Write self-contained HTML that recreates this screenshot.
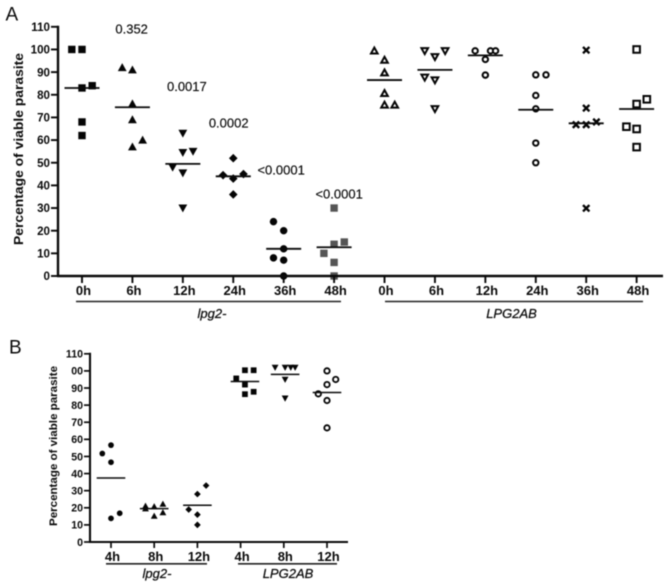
<!DOCTYPE html>
<html lang="en">
<head>
<meta charset="utf-8">
<title>Percentage of viable parasite</title>
<style>
html,body{margin:0;padding:0;background:#fff;width:669px;height:585px;overflow:hidden}
svg{display:block;filter:blur(0.45px)}
text{font-family:"Liberation Sans",sans-serif;fill:#0a0a0a}
</style>
</head>
<body>
<svg id="chart" xmlns="http://www.w3.org/2000/svg" width="669" height="585" viewBox="0 0 669 585"></svg>
<script>
// Panel A data
const aCategories = ['0h','6h','12h','24h','36h','48h','0h','6h','12h','24h','36h','48h'];
const aYTicks = [0,10,20,30,40,50,60,70,80,90,100,110];
const aYTickLabels = ['0','10','20','30','40','50','60','70','80','90','100','110'];
const aValues = [
  [100,100,83,84,68,62],
  [92,91,76,69,60,57],
  [63,54.5,55,48,45.5,30],
  [52,44.5,45,43,36],
  [24,20,12,8,7,0],
  [30,14,10,15,6,0],
  [99.4,95.3,89.7,80.6,75.5,75.5],
  [99.4,99.4,96.8,87.7,86.5,73.8],
  [99.4,99.4,99.4,95.6,88.7,88.7],
  [88.8,88.8,79.7,73.8,58.7,50],
  [99.7,74.1,66.8,66.8,68,29.9],
  [100,78,75.9,65.9,64.9,56.9]
];
const aColumns = [
  [-1,0,0,1,0,0],
  [-1,0,0,0,1,0],
  [0,0,1,-1,0,0],
  [0,-1,1,0,0],
  [-1,0,0,-1,0,0],
  [0,0,-1,1,0,0],
  [-1,0,0,0,0,1],
  [-1,1,0,-1,0,0],
  [-1,0.5,1,0,0,0],
  [0,1,0,0,0,0],
  [0,0,-1,0,1,0],
  [0,1,0,-1,0,0]
];
const aMeans = [83,74.5,49.5,44,12,12.7,86.5,91,97.4,73.4,67.4,73.7];
const aMarkers = ['square','up','down','diamond','circle','greysquare','openup','opendown','opencircle','opencircle','cross','opensquare'];
const aPValues = ['0.352','0.0017','0.0002','<0.0001','<0.0001'];
const aPValueHeights = [109,83.7,67.5,46.8,36.2];
const aPValueCategories = [0.985,2.08,2.91,3.95,5.1];

// Panel B data
const bCategories = ['4h','8h','12h','4h','8h','12h'];
const bYTicks = [0,10,20,30,40,50,60,70,80,90,100,110];
const bYTickLabels = ['0','10','20','30','40','50','60','70','80','90','00','110'];
const bValues = [
  [51.7,56.6,46.6,13.8,16.8],
  [21,19.5,20.7,15.2,22.2,17.2],
  [28,33,19,16,10],
  [100.4,100.4,95.6,92,87.8,86.4],
  [102,102,102,102,95,84],
  [100,95,92,86.6,82.7,66.7]
];
const bColumns = [
  [-1,0,0,0,1],
  [-1,-1,0,0,1,1],
  [0,1,-1,0,0],
  [0.5,1.5,-0.5,0.5,1.5,0.5],
  [-1,0.15,0.8,1.3,0.15,0.15],
  [0,1,0,-1,0,0]
];
const bMeans = [37.4,19.5,21.5,93.8,98,87.4];
const bCenterShift = [0,0,0,0.5,0.15,0];
const bMarkers = ['circle','up','diamond','square','down','opencircle'];

const NS = 'http://www.w3.org/2000/svg';
const svg = document.getElementById('chart');
function add(tag, attrs, parent, txt) {
  const el = document.createElementNS(NS, tag);
  for (const k in attrs) el.setAttribute(k, attrs[k]);
  if (txt !== undefined) el.textContent = txt;
  (parent || svg).appendChild(el);
  return el;
}

function marker(g, type, x, y, s) {
  const k = s / 8;
  const dark = '#050505';
  const sw = 1.2 + 0.8 * k;
  let el;
  if (type === 'square' || type === 'greysquare') {
    const w = 7.4 * k;
    el = add('rect', {x: x - w / 2, y: y - w / 2, width: w, height: w, fill: type === 'square' ? dark : '#555'}, g);
  } else if (type === 'opensquare') {
    const w = 6.6 * k;
    el = add('rect', {x: x - w / 2, y: y - w / 2, width: w, height: w, fill: '#fff', stroke: dark, 'stroke-width': sw}, g);
  } else if (type === 'up' || type === 'openup') {
    const open = type === 'openup';
    const a = (open ? 3.3 : 4.4) * k;
    el = add('polygon', {points: [x - a, y + a * 0.8, x + a, y + a * 0.8, x, y - a].join(' '), fill: open ? '#fff' : dark, stroke: open ? dark : 'none', 'stroke-width': open ? sw : 0}, g);
  } else if (type === 'down' || type === 'opendown') {
    const open = type === 'opendown';
    const a = (open ? 3.3 : 4.4) * k;
    el = add('polygon', {points: [x - a, y - a * 0.8, x + a, y - a * 0.8, x, y + a].join(' '), fill: open ? '#fff' : dark, stroke: open ? dark : 'none', 'stroke-width': open ? sw : 0}, g);
  } else if (type === 'diamond') {
    const a = 4.3 * k;
    el = add('polygon', {points: [x - a, y, x, y - a, x + a, y, x, y + a].join(' '), fill: dark}, g);
  } else if (type === 'circle') {
    el = add('circle', {cx: x, cy: y, r: 3.7 * k, fill: dark}, g);
  } else if (type === 'opencircle') {
    el = add('circle', {cx: x, cy: y, r: 2.7, fill: '#fff', stroke: dark, 'stroke-width': sw}, g);
  } else if (type === 'cross') {
    const a = 3.2 * k;
    el = add('path', {d: 'M' + (x - a) + ' ' + (y - a) + 'L' + (x + a) + ' ' + (y + a) + 'M' + (x + a) + ' ' + (y - a) + 'L' + (x - a) + ' ' + (y + a), stroke: dark, 'stroke-width': 2.4, fill: 'none'}, g);
  }
  return el;
}

function drawPanel(cfg) {
  const g = add('g', {});
  
  
  const xAt = function (i) { return cfg.x0 + cfg.step * i; };
  const yAt = function (v) { return cfg.y0 - (v / 110) * (cfg.y0 - cfg.y110); };

  // marks
  cfg.values.forEach(function (vals, i) {
    const sg = add('g', {}, g);
    
    
    const shift = cfg.shift ? cfg.shift[i] * cfg.colW : 0;
    vals.forEach(function (v, j) {
      const m = marker(sg, cfg.markers[i], xAt(i) + cfg.columns[i][j] * cfg.colW, yAt(v), cfg.size);
      
      
    });
    const ml = add('line', {x1: xAt(i) + shift - cfg.meanHalf, x2: xAt(i) + shift + cfg.meanHalf, y1: yAt(cfg.means[i]), y2: yAt(cfg.means[i]), stroke: '#0a0a0a', 'stroke-width': cfg.meanW}, sg);
    
    
  });

  // axes
  const yAxis = add('line', {x1: cfg.axisX, x2: cfg.axisX, y1: yAt(110) - 1, y2: cfg.y0 + 1, stroke: '#0a0a0a', 'stroke-width': cfg.axisW}, g);
  
  
  const xAxis = add('line', {x1: cfg.axisX - 1, x2: cfg.axisEnd, y1: cfg.y0, y2: cfg.y0, stroke: '#0a0a0a', 'stroke-width': cfg.axisW}, g);
  
  

  cfg.yTicks.forEach(function (t, i) {
    add('line', {x1: cfg.axisX - cfg.tick, x2: cfg.axisX, y1: yAt(t), y2: yAt(t), stroke: '#0a0a0a', 'stroke-width': cfg.axisW * 0.8}, g);
    const lab = add('text', {x: cfg.axisX - cfg.tick - 1, y: yAt(t) + cfg.yFont * 0.36, 'text-anchor': 'end', 'font-size': cfg.yFont, 'font-weight': 'bold'}, g, cfg.yLabels[i]);
    
    
  });
  cfg.categories.forEach(function (c, i) {
    add('line', {x1: xAt(i), x2: xAt(i), y1: cfg.y0, y2: cfg.y0 + cfg.tick, stroke: '#0a0a0a', 'stroke-width': cfg.axisW * 0.8}, g);
    const lab = add('text', {x: xAt(i) + 1.5, y: cfg.xLabelY, 'text-anchor': 'middle', 'font-size': 13, 'font-weight': 'bold'}, g, c);
    
    
  });

  const title = add('text', {transform: 'translate(' + cfg.titleX + ' ' + cfg.titleY + ') rotate(-90)', 'text-anchor': 'middle', 'font-size': cfg.titleFont, 'font-weight': 'bold', textLength: cfg.titleLen, lengthAdjust: 'spacingAndGlyphs'}, g, 'Percentage of viable parasite');
  
  

  cfg.groups.forEach(function (gr) {
    const br = add('line', {x1: gr.x1, x2: gr.x2, y1: cfg.groupY, y2: cfg.groupY, stroke: '#222', 'stroke-width': 1.6}, g);
    
    
    const t = add('text', {x: gr.cx, y: cfg.groupTextY, 'text-anchor': 'middle', 'font-size': 13, 'font-style': 'italic', stroke: '#0a0a0a', 'stroke-width': 0.25}, g, gr.label);
    
    
  });
}

drawPanel({
  name: 'panel-a', prefix: 'a', x0: 82, step: 50.42, y0: 276, y110: 26.8, axisX: 58, axisEnd: 663, axisW: 2.4, tick: 7,
  categories: aCategories, yTicks: aYTicks, yLabels: aYTickLabels, values: aValues, columns: aColumns, means: aMeans, markers: aMarkers,
  colW: 10.2, size: 8, meanHalf: 17.5, meanW: 1.8, yFont: 11.6, xLabelY: 295, titleX: 23, titleY: 149, titleFont: 13, titleLen: 192,
  groupY: 301.5, groupTextY: 318,
  groups: [{x1: 76, x2: 341, cx: 212, label: 'lpg2-'}, {x1: 385, x2: 643, cx: 511.5, label: 'LPG2AB'}]
});

drawPanel({
  name: 'panel-b', prefix: 'b', x0: 111, step: 43.2, y0: 542, y110: 353.8, axisX: 90, axisEnd: 348, axisW: 2.1, tick: 6,
  categories: bCategories, yTicks: bYTicks, yLabels: bYTickLabels, values: bValues, columns: bColumns, means: bMeans, markers: bMarkers, shift: bCenterShift,
  colW: 8.7, size: 6.2, meanHalf: 14.3, meanW: 1.5, yFont: 10.6, xLabelY: 561, titleX: 57, titleY: 446, titleFont: 11, titleLen: 160,
  groupY: 563.8, groupTextY: 578,
  groups: [{x1: 106, x2: 207, cx: 157, label: 'lpg2-'}, {x1: 238, x2: 337, cx: 288, label: 'LPG2AB'}]
});

// p-value annotations, placed on panel A's axis scale
aPValues.forEach(function (p, i) {
  const x = 82 + 50.42 * aPValueCategories[i];
  const y = 276 - aPValueHeights[i] * (276 - 26.8) / 110;
  const t = add('text', {x: x, y: y + 4.5, 'text-anchor': 'middle', 'font-size': 13, stroke: '#0a0a0a', 'stroke-width': 0.15}, svg, p);
  
  
});

const labelA = add('text', {x: 5.5, y: 20.5, 'font-size': 19}, svg, 'A');


const labelB = add('text', {x: 9, y: 353.5, 'font-size': 19}, svg, 'B');


</script>
</body>
</html>
